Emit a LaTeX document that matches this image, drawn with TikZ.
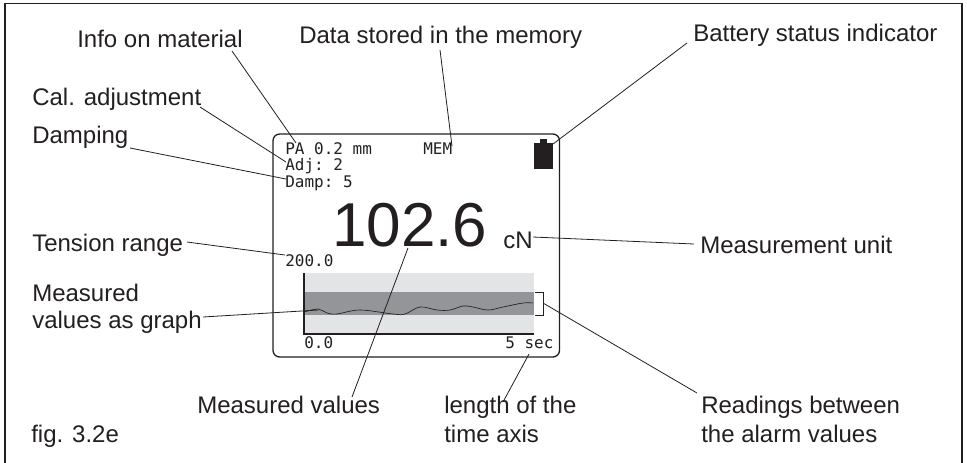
\documentclass[tikz,border=0pt]{standalone}
\usepackage{fontspec}
\setmainfont{Liberation Sans}
\setmonofont{DejaVu Sans Mono}
\definecolor{ink}{HTML}{231F20}
\definecolor{lightband}{HTML}{E3E4E6}
\definecolor{darkband}{HTML}{939598}
\tikzset{
 x=0.75pt,y=-0.75pt,
 lab/.style={font=\fontsize{18}{21}\selectfont,text=ink,inner sep=0pt,anchor=base west,align=left},
 lcd/.style={font=\ttfamily\fontsize{12}{14}\selectfont,text=ink,inner sep=0pt,anchor=base west},
 lead/.style={draw=ink,line width=0.6pt},
}
\begin{document}
\begin{tikzpicture}
\useasboundingbox (0,0) rectangle (967,462);
\draw[ink,line width=0.9pt] (5,470) -- (5,3.5) -- (962,3.5) -- (962,470);
% display
\draw[ink,line width=1pt,rounded corners=5pt] (273,134) rectangle (559.5,357);
\fill[lightband] (304,273) rectangle (534,334);
\fill[darkband] (304,292) rectangle (534,315);
\draw[ink,line width=0.8pt] (304,273) -- (304,334) -- (534,334);
\draw[ink,line width=0.6pt] (535,292.5) -- (543,292.5) -- (543,315.5) -- (535,315.5);
\draw[ink,line width=0.5pt] plot[smooth,tension=0.6] coordinates {(304,312) (318,309) (327,313) (337,314) (360,310) (393,314) (405,314) (420,307) (437,310) (450,310) (463,306) (473,307) (488,310) (503,307) (523,303) (533,303)};
\fill[ink] (534,143) rectangle (553,169);
\fill[ink] (540,139) rectangle (547,143.5);
\node[lcd] (pa) at (285,154) {PA 0.2 mm};
\node[lcd] (mem) at (423,154) {MEM};
\node[lcd] (adj) at (285,170) {Adj: 2};
\node[lcd] (damp) at (285,187) {Damp: 5};
\node[lcd] (rng) at (285,266) {200.0};
\node[lcd] (zero) at (304,348) {0.0};
\node[lcd] (sec) at (505,348) {5 sec};
\node[font=\fontsize{46.5}{50}\selectfont,text=ink,inner sep=0pt,anchor=base west] (val) at (332,246) {102.6};
\node[font=\fontsize{18}{20}\selectfont,text=ink,inner sep=0pt,anchor=base west] (cn) at (503,248) {cN};
% labels
\node[lab] (info) at (77,47) {Info on material};
\node[lab] (mem2) at (299,43) {Data stored in the memory};
\node[lab] (bat) at (693,41) {Battery status indicator};
\node[lab] (cal) at (32,105) {Cal. adjustment};
\node[lab] (dmp) at (32,143) {Damping};
\node[lab] (tr) at (32,251) {Tension range};
\node[lab] (mv) at (32,301) {Measured};
\node[lab] (mv2) at (32,328) {values as graph};
\node[lab] (unit) at (700,253) {Measurement unit};
\node[lab] (mval) at (197,413) {Measured values};
\node[lab] (len1) at (444,413) {length of the};
\node[lab] (len2) at (444,442) {time axis};
\node[lab] (rd1) at (701,413) {Readings between};
\node[lab] (rd2) at (701,442) {the alarm values};
\node[lab] (fig) at (31,442) {fig. 3.2e};
% leaders
\coordinate (a1) at (232,51); \coordinate (a2) at (296,143);
\draw[lead] (a1) -- (a2);
\coordinate (b1) at (200,107); \coordinate (b2) at (286,162);
\draw[lead] (b1) -- (b2);
\coordinate (c1) at (130,148); \coordinate (c2) at (286,179);
\draw[lead] (c1) -- (c2);
\coordinate (d1) at (440,50); \coordinate (d2) at (452,146);
\draw[lead] (d1) -- (d2);
\coordinate (e1) at (687,43); \coordinate (e2) at (553,144);
\draw[lead] (e1) -- (e2);
\coordinate (f1) at (533,237); \coordinate (f2) at (694,244);
\draw[lead] (f1) -- (f2);
\coordinate (g1) at (187,242); \coordinate (g2) at (285,255);
\draw[lead] (g1) -- (g2);
\coordinate (h1) at (203,317); \coordinate (h2) at (318,310);
\draw[lead] (h1) -- (h2);
\coordinate (i1) at (408,248); \coordinate (i2) at (352,397);
\draw[lead] (i1) -- (i2);
\coordinate (j1) at (529,354); \coordinate (j2) at (503,402);
\draw[lead] (j1) -- (j2);
\coordinate (k1) at (543,303); \coordinate (k2) at (697,393);
\draw[lead] (k1) -- (k2);
\end{tikzpicture}
\end{document}
